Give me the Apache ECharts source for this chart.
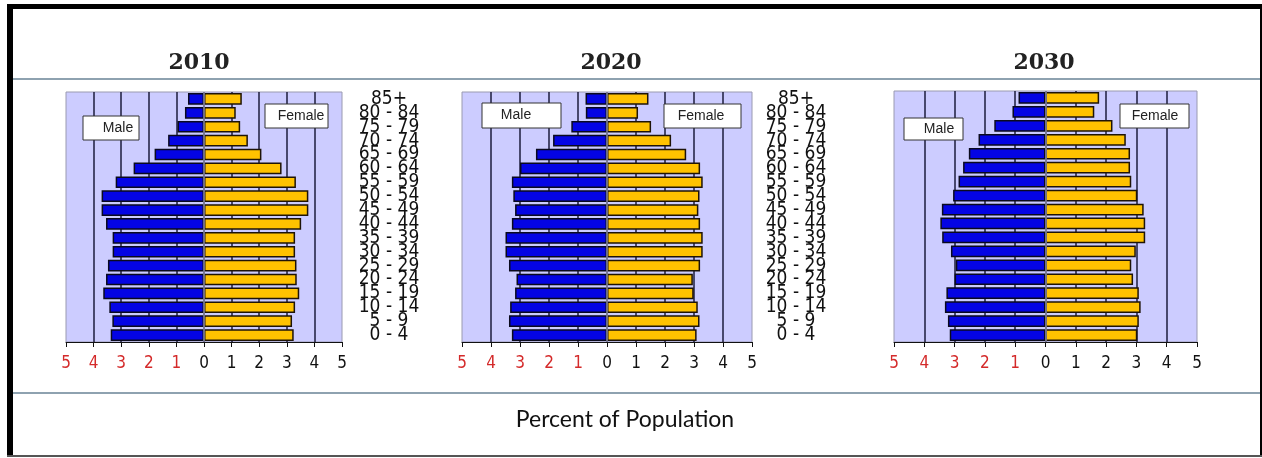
<!DOCTYPE html>
<html>
<head>
<meta charset="utf-8">
<title>Population Pyramids 2010-2030</title>
<script src="https://cdn.jsdelivr.net/npm/echarts@6/dist/echarts.min.js"></script>
<style>
  html, body { margin: 0; padding: 0; background: #fff; }
  #chart { width: 1262px; height: 458px; }
</style>
</head>
<body>
<div id="chart"></div>
<script>
// Age groups, youngest at the bottom of each pyramid
const ageGroups = ['0 - 4', '5 - 9', '10 - 14', '15 - 19', '20 - 24', '25 - 29', '30 - 34', '35 - 39',
  '40 - 44', '45 - 49', '50 - 54', '55 - 59', '60 - 64', '65 - 69', '70 - 74', '75 - 79', '80 - 84', '85+'];

// Percent of population per age group (same order as ageGroups)
const male2010 = [3.38, 3.32, 3.43, 3.65, 3.55, 3.48, 3.31, 3.31, 3.55, 3.71, 3.71, 3.20, 2.55, 1.79, 1.30, 0.96, 0.69, 0.58];
const female2010 = [3.25, 3.19, 3.30, 3.45, 3.36, 3.35, 3.30, 3.30, 3.52, 3.78, 3.78, 3.33, 2.81, 2.08, 1.59, 1.31, 1.15, 1.37];
const male2020 = [3.28, 3.38, 3.34, 3.17, 3.12, 3.38, 3.50, 3.50, 3.28, 3.17, 3.23, 3.28, 3.00, 2.45, 1.86, 1.23, 0.73, 0.74];
const female2020 = [3.09, 3.19, 3.13, 2.99, 2.96, 3.21, 3.30, 3.30, 3.21, 3.15, 3.19, 3.30, 3.21, 2.73, 2.21, 1.52, 1.07, 1.43];
const male2030 = [3.16, 3.22, 3.32, 3.27, 3.00, 2.96, 3.12, 3.41, 3.47, 3.42, 3.05, 2.87, 2.72, 2.53, 2.21, 1.69, 1.09, 0.89];
const female2030 = [3.03, 3.08, 3.14, 3.08, 2.89, 2.83, 2.98, 3.29, 3.29, 3.24, 3.03, 2.83, 2.79, 2.79, 2.65, 2.21, 1.61, 1.77];

const years = ['2010', '2020', '2030'];
const maleByYear = [male2010, male2020, male2030];
const femaleByYear = [female2010, female2020, female2030];

// Tick labels along the percent axis (left side shown in red)
const percentTicks = [-5, -4, -3, -2, -1, 0, 1, 2, 3, 4, 5];

const NARROW = '"Liberation Sans Narrow", "DejaVu Sans Condensed", "Liberation Sans", sans-serif';

// Panel placement
const panels = [
  { left: 66, width: 276, top: 92, height: 250, title: 199, ageMargin: 47, showAges: true,
    male: { x: 83, y: 116, w: 56, h: 24, tx: 118 }, female: { x: 265, y: 104, w: 63, h: 24, tx: 301 } },
  { left: 462, width: 290, top: 92, height: 250, title: 611, ageMargin: 44, showAges: true,
    male: { x: 482, y: 103, w: 79, h: 25, tx: 516 }, female: { x: 664, y: 104, w: 77, h: 24, tx: 701 } },
  { left: 894, width: 303, top: 91, height: 251, title: 1044, ageMargin: 44, showAges: false,
    male: { x: 904, y: 118, w: 59, h: 22, tx: 939 }, female: { x: 1120, y: 104, w: 69, h: 24, tx: 1155 } }
];

const grids = [], xAxes = [], yAxes = [], series = [], graphics = [];

panels.forEach((p, i) => {
  grids.push({
    left: p.left, top: p.top, width: p.width, height: p.height,
    show: true, backgroundColor: '#ccccff', borderColor: '#9a9ab0', borderWidth: 1
  });
  xAxes.push({
    gridIndex: i, type: 'value',
    min: percentTicks[0], max: percentTicks[percentTicks.length - 1], interval: 1,
    axisLine: { show: true, onZero: false, lineStyle: { color: '#111', width: 1 } },
    axisTick: { show: true, length: 5, lineStyle: { color: '#111' } },
    axisLabel: {
      margin: 13, fontSize: 17, fontFamily: NARROW,
      formatter: v => String(Math.abs(v)),
      color: v => (Number(v) < 0 ? '#d42a2a' : '#111')
    },
    splitLine: { show: true, showMinLine: false, showMaxLine: false,
      lineStyle: { color: '#1c1c3c', width: 1.5 } }
  });
  yAxes.push({
    gridIndex: i, type: 'category', data: ageGroups, position: 'right',
    axisLine: { show: false, onZero: false }, axisTick: { show: false },
    axisLabel: {
      show: p.showAges, interval: 0, margin: p.ageMargin, align: 'center',
      fontSize: 19, lineHeight: 14, fontFamily: NARROW, color: '#111'
    },
    splitLine: { show: false }
  });
  series.push({
    name: 'Male ' + years[i], type: 'bar', xAxisIndex: i, yAxisIndex: i,
    data: maleByYear[i].map(v => -v),
    barCategoryGap: '16%', barGap: '-100%',
    itemStyle: { color: '#0404e4', borderColor: '#0a0a1e', borderWidth: 1.5 },
    emphasis: { disabled: true }, silent: true, z: 3,
    markLine: {
      silent: true, symbol: 'none', label: { show: false },
      lineStyle: { color: '#8c8ca8', type: 'solid', width: 1.5 },
      data: [{ xAxis: 0 }], z: 5
    }
  });
  series.push({
    name: 'Female ' + years[i], type: 'bar', xAxisIndex: i, yAxisIndex: i,
    data: femaleByYear[i],
    barCategoryGap: '16%', barGap: '-100%',
    itemStyle: { color: '#ffc200', borderColor: '#1e1408', borderWidth: 1.5 },
    emphasis: { disabled: true }, silent: true, z: 3
  });

  // Year heading
  graphics.push({
    type: 'text', x: p.title, y: 63,
    style: { text: years[i], textAlign: 'center', textVerticalAlign: 'middle',
      font: 'bold 22px "DejaVu Serif", "Liberation Serif", serif', fill: '#222' }
  });

  // Male / Female tags
  [['Male', p.male], ['Female', p.female]].forEach(([label, b]) => {
    graphics.push({
      type: 'rect', shape: { x: b.x, y: b.y, width: b.w, height: b.h },
      style: { fill: '#ffffff', stroke: '#333', lineWidth: 1 }, z: 20
    });
    graphics.push({
      type: 'text', x: b.tx, y: b.y + b.h / 2, z: 21,
      style: { text: label, textAlign: 'center', textVerticalAlign: 'middle',
        font: '14px "Liberation Sans", Arial, sans-serif', fill: '#222' }
    });
  });
});

// Frame and separator rules
graphics.push(
  { type: 'rect', shape: { x: 7, y: 4, width: 6, height: 453 }, style: { fill: '#000' }, z: 30 },
  { type: 'rect', shape: { x: 7, y: 4, width: 1255, height: 5 }, style: { fill: '#000' }, z: 30 },
  { type: 'rect', shape: { x: 1260, y: 4, width: 2, height: 453 }, style: { fill: '#000' }, z: 30 },
  { type: 'rect', shape: { x: 7, y: 455, width: 1255, height: 2 }, style: { fill: '#555' }, z: 30 },
  { type: 'rect', shape: { x: 13, y: 78, width: 1247, height: 2 }, style: { fill: '#8ea2b0' }, z: 30 },
  { type: 'rect', shape: { x: 13, y: 392, width: 1247, height: 2 }, style: { fill: '#8ea2b0' }, z: 30 },
  {
    type: 'text', x: 625, y: 420, z: 30,
    style: { text: 'Percent of Population', textAlign: 'center', textVerticalAlign: 'middle',
      font: '23px Lato, "Open Sans", sans-serif', fill: '#111' }
  }
);

const chart = echarts.init(document.getElementById('chart'), null, { renderer: 'canvas' });
chart.setOption({
  animation: false,
  backgroundColor: '#ffffff',
  grid: grids,
  xAxis: xAxes,
  yAxis: yAxes,
  series: series,
  graphic: graphics
});
</script>
</body>
</html>
